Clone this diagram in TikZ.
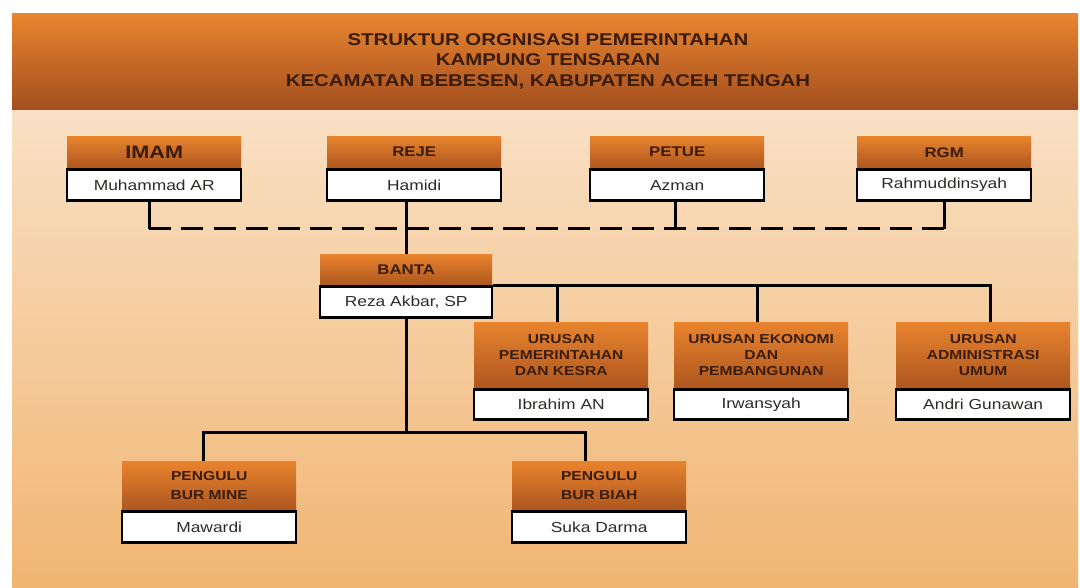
\documentclass[tikz,border=0pt]{standalone}
\usepackage{fontspec}
\setmainfont{Liberation Sans}[FakeStretch=1.2]
\definecolor{bgtop}{HTML}{F9E0C4}
\definecolor{bgbot}{HTML}{F1B572}
\definecolor{hdtop}{HTML}{E9852F}
\definecolor{hdmid}{HTML}{DC7427}
\definecolor{hdbot}{HTML}{A24E1E}
\definecolor{ortop}{HTML}{E8842E}
\definecolor{orbot}{HTML}{AE561F}
\definecolor{ink}{HTML}{3A1C0C}
\definecolor{nameink}{HTML}{2E2A28}
\tikzset{
  ttl/.style={anchor=north west, inner sep=0pt, minimum width=174pt,
    top color=ortop, bottom color=orbot, text=ink,
    font=\bfseries\fontsize{14}{16}\selectfont, align=center},
  namebox/.style={anchor=north, draw=black, line width=2.4pt, fill=white,
    inner sep=0pt, minimum width=174pt, minimum height=31pt, text=nameink,
    font=\fontsize{14.5}{16}\selectfont},
  conn/.style={draw=black, line width=2.7pt},
  dashconn/.style={conn, dash pattern=on 22pt off 10.2pt}
}
\begin{document}
\begin{tikzpicture}[x=1pt,y=-1pt]
\useasboundingbox (0,0) rectangle (1080,588);
\fill[white] (0,0) rectangle (1080,588);
% panel
\shade[top color=bgtop, bottom color=bgbot] (12,110) rectangle (1078,588);
\shade[top color=hdtop, middle color=hdmid, bottom color=hdbot] (12,14) rectangle (1078,110);
\node[text=ink, font=\bfseries\fontsize{17}{20.5}\selectfont, align=center] (title) at (548,61)
  {STRUKTUR ORGNISASI PEMERINTAHAN\\KAMPUNG TENSARAN\\KECAMATAN BEBESEN, KABUPATEN ACEH TENGAH};

% top row
\node[ttl, minimum height=32pt, font=\bfseries\fontsize{18}{20}\selectfont] (imamT) at (67,136) {IMAM};
\node[namebox] (imamN) at (imamT.south) {Muhammad AR};
\node[ttl, minimum height=32pt] (rejeT) at (327,136) {REJE};
\node[namebox] (rejeN) at (rejeT.south) {Hamidi};
\node[ttl, minimum height=32pt] (petueT) at (590,136) {PETUE};
\node[namebox] (petueN) at (petueT.south) {Azman};
\node[ttl, minimum height=32pt] (rgmT) at (857,136) {RGM};
\node[namebox] (rgmN) at (rgmT.south) {Rahmuddinsyah};

% banta
\node[ttl, minimum height=31pt, minimum width=172pt] (bantaT) at (320,254) {BANTA};
\node[namebox, minimum width=172pt] (bantaN) at (bantaT.south) {Reza Akbar, SP};

% urusan
\node[ttl, minimum height=66pt, font=\bfseries\fontsize{13}{16}\selectfont] (u1T) at (474,322) {URUSAN\\PEMERINTAHAN\\DAN KESRA};
\node[namebox, minimum height=30pt] (u1N) at (u1T.south) {Ibrahim AN};
\node[ttl, minimum height=66pt, font=\bfseries\fontsize{13}{16}\selectfont] (u2T) at (674,322) {URUSAN EKONOMI\\DAN\\PEMBANGUNAN};
\node[namebox, minimum height=30pt] (u2N) at (u2T.south) {Irwansyah};
\node[ttl, minimum height=66pt, font=\bfseries\fontsize{13}{16}\selectfont] (u3T) at (896,322) {URUSAN\\ADMINISTRASI\\UMUM};
\node[namebox, minimum height=30pt] (u3N) at (u3T.south) {Andri Gunawan};

% pengulu
\node[ttl, minimum height=49pt, font=\bfseries\fontsize{13}{19}\selectfont] (p1T) at (122,461) {PENGULU\\BUR MINE};
\node[namebox] (p1N) at (p1T.south) {Mawardi};
\node[ttl, minimum height=49pt, font=\bfseries\fontsize{13}{19}\selectfont] (p2T) at (512,461) {PENGULU\\BUR BIAH};
\node[namebox] (p2N) at (p2T.south) {Suka Darma};

% connectors: top row
\draw[conn] ([xshift=-5pt]imamN.south) -- ++(0,27) coordinate (dl);
\draw[conn] (rgmN.south) -- ++(0,27) coordinate (dr);
\draw[conn] ([xshift=-2pt]petueN.south) -- ([xshift=-2pt]petueN.south |- dl);
\draw[dashconn] (dl) -- (dr);
\draw[conn] (bantaT.north) -- (bantaT.north |- rejeN.south);

% banta to urusan
\coordinate (bj) at (bantaN.north east);
\draw[conn] (bj) -| ([xshift=7pt]u3T.north);
\draw[conn] ([xshift=-4pt]u1T.north) -- ([xshift=-4pt]u1T.north |- bj);
\draw[conn] ([xshift=-4pt]u2T.north) -- ([xshift=-4pt]u2T.north |- bj);

% banta to pengulu
\draw[conn] (bantaN.south) -- ++(0,114) coordinate (pj);
\draw[conn] ([xshift=-6pt]p1T.north) |- (pj);
\draw[conn] ([xshift=-14pt]p2T.north) |- (pj);
\end{tikzpicture}
\end{document}
